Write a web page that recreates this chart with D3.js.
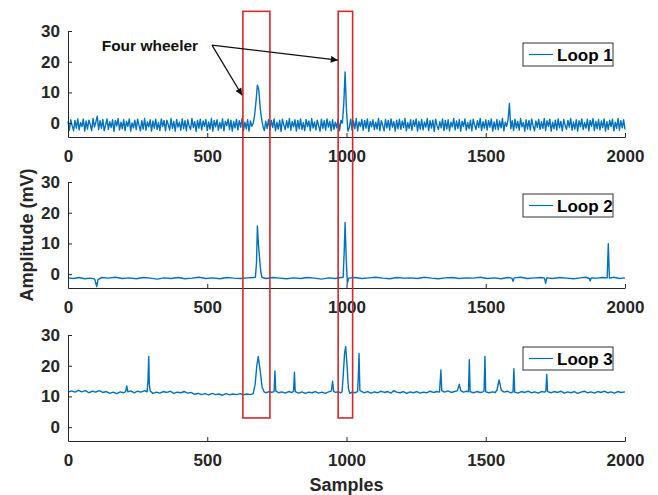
<!DOCTYPE html>
<html>
<head>
<meta charset="utf-8">
<script src="https://cdn.jsdelivr.net/npm/d3@7"></script>
<style>
  body { margin: 0; background: #fff; }
  text { font-family: "Liberation Sans", Arial, sans-serif; }
</style>
</head>
<body>
<div id="chart"></div>
<script>
// Loop 1: one value every 5 samples (0..2000), one row = 100 samples
const loop1Step = 5;
const loop1Values = [
  0.6,-2.3,1.1,-0.8,-2.5,0.9,-1.6,1.4,-2.2,0.2,-1.1,1.3,-2.6,0.7,-1.9,1.0,-0.4,-2.4,1.5,-1.3,
  0.4,2.3,-2.1,0.8,-1.7,1.2,-2.5,-0.6,1.4,-2.0,0.5,-1.4,1.1,-2.7,0.9,-0.9,1.5,-2.2,0.3,-1.8,
  1.2,-2.4,0.6,-1.0,1.4,-2.6,0.1,-1.5,1.0,-2.1,1.3,-0.7,-2.5,0.8,-1.9,1.5,-2.3,0.4,-1.2,1.1,
  -2.6,0.7,-1.6,1.3,-2.0,0.2,-2.4,1.4,-1.1,0.9,-2.5,1.0,-0.5,-2.2,1.5,-1.7,0.6,-2.6,1.2,-1.3,
  0.3,-2.3,1.4,-1.8,0.8,-2.5,1.1,-0.9,-2.1,1.5,-1.4,0.5,-2.7,1.0,-1.6,1.3,-2.2,0.7,-1.0,1.2,
  -2.4,0.4,-1.9,1.5,-2.6,0.9,-1.2,1.1,-2.3,0.2,-1.7,1.4,-2.5,0.6,-0.8,1.3,-2.1,1.0,-2.6,0.5,
  -1.5,1.2,-2.2,0.8,-1.3,1.5,-2.4,0.3,-1.8,1.1,-2.6,0.7,-1.0,0.0,2.5,7.0,12.4,11.0,5.0,1.5,
  -1.0,-2.4,0.6,-1.7,1.2,-2.2,0.9,-1.4,1.4,-2.5,0.3,-1.9,1.0,-2.7,1.3,-0.6,-2.1,0.8,-1.5,1.5,
  -2.3,0.5,-1.2,1.1,-2.6,0.9,-1.8,1.4,-2.0,0.2,-2.4,1.2,-1.1,0.7,-2.5,1.5,-1.6,0.4,-2.2,1.0,
  -0.9,-2.6,1.3,-1.7,0.8,-2.3,1.4,-1.3,0.6,-2.5,1.1,-2.0,0.3,-1.5,1.2,-2.4,0.9,0.0,6.0,16.7,
  4.0,-2.6,-1.4,1.3,-2.2,0.7,-1.8,1.5,-2.5,0.4,-1.1,1.2,-2.3,0.9,-1.6,1.4,-2.7,0.6,-1.2,1.1,
  -2.1,0.3,-1.9,1.5,-2.4,0.8,-0.7,-2.5,1.2,-1.5,0.9,-2.2,1.4,-1.3,0.5,-2.6,1.0,-1.8,1.3,-2.0,
  0.7,-1.4,1.5,-2.5,0.2,-1.7,1.1,-2.3,0.9,-1.0,1.4,-2.6,0.6,-1.9,1.2,-2.2,0.4,-1.3,1.5,-2.4,
  0.8,-1.6,1.0,-2.7,1.3,-0.8,-2.1,0.5,-1.5,1.4,-2.4,0.9,-1.9,1.1,-2.5,0.3,-1.2,1.5,-2.2,0.7,
  -1.7,1.2,-2.6,0.6,-1.1,1.4,-2.3,0.2,-1.8,1.0,-2.5,1.3,-0.6,-2.0,0.8,-1.4,1.5,-2.4,0.5,-1.6,
  1.1,-2.2,0.9,-1.3,1.4,-2.6,0.4,-1.9,1.2,-2.1,0.7,-1.5,1.5,-2.5,0.3,-1.0,1.0,6.4,-1.8,0.8,
  -2.4,1.3,-1.6,0.6,-2.3,1.5,-1.2,0.2,-2.6,1.1,-1.9,0.9,-2.2,1.4,-0.9,-2.5,0.7,-1.4,1.2,-2.0,
  0.5,-1.7,1.5,-2.4,0.8,-1.1,1.3,-2.6,0.3,-1.8,1.0,-2.2,1.4,-1.5,0.6,-2.5,1.2,-0.7,-2.0,0.9,
  -1.3,1.5,-2.3,0.4,-1.9,1.1,-2.6,0.8,-1.2,1.4,-2.1,0.2,-1.6,1.3,-2.5,0.9,-1.0,1.5,-2.4,0.6,
  -1.8,1.2,-2.2,0.7,-1.4,1.4,-2.6,0.5,-2.0,1.0,-1.1,1.3,-2.5,0.3,-1.7,1.5,-2.3,0.8,-1.5,1.1,
  -2.0
];

// Loop 2 and Loop 3: [sample, amplitude]
const loop2 = [
  [0,-1.2],[20,-1.4],[40,-1.1],[60,-1.5],[80,-1.3],[96,-1.6],[103,-4.0],[108,-1.8],[120,-1.1],
  [145,-1.3],[170,-1.0],[195,-1.4],[220,-1.2],[245,-1.5],[270,-1.1],[295,-1.3],[320,-1.6],
  [345,-1.2],[370,-1.4],[395,-1.1],[420,-1.5],[445,-1.3],[470,-1.0],[495,-1.4],[520,-1.2],
  [545,-1.5],[570,-1.1],[595,-1.3],[620,-1.4],[645,-1.2],[665,-1.1],[673,-1.0],[677,4.0],
  [680,15.7],[684,9.5],[688,5.0],[692,1.0],[696,-1.0],[710,-1.4],[735,-1.1],[760,-1.3],
  [785,-1.5],[810,-1.2],[835,-1.4],[860,-1.1],[885,-1.3],[910,-1.6],[935,-1.2],[960,-1.4],
  [980,-1.1],[988,-1.0],[992,8.0],[995,16.8],[999,5.0],[1003,-3.0],[1008,-1.3],[1030,-1.1],
  [1055,-1.4],[1080,-1.2],[1105,-1.0],[1130,-1.3],[1155,-1.5],[1180,-1.1],[1205,-1.3],
  [1230,-1.2],[1255,-1.4],[1280,-1.0],[1305,-1.3],[1330,-1.5],[1355,-1.2],[1380,-1.1],
  [1405,-1.4],[1430,-1.2],[1455,-1.3],[1480,-1.0],[1505,-1.4],[1530,-1.2],[1555,-1.5],
  [1580,-1.1],[1594,-1.3],[1598,-2.3],[1602,-1.2],[1625,-1.0],[1650,-1.4],[1675,-1.2],
  [1700,-1.1],[1711,-1.3],[1715,-3.0],[1719,-1.2],[1740,-1.4],[1765,-1.1],[1790,-1.3],
  [1815,-1.5],[1840,-1.2],[1860,-1.0],[1872,-1.4],[1875,-2.2],[1879,-1.2],[1900,-1.3],
  [1920,-1.1],[1936,-1.2],[1940,9.9],[1944,-1.3],[1960,-1.0],[1980,-1.4],[2000,-1.2]
];

const loop3 = [
  [0,11.3],[12,11.8],[25,11.4],[38,12.0],[50,11.5],[62,11.9],[75,11.2],[88,11.7],[100,11.4],
  [112,11.9],[125,11.3],[138,11.6],[150,11.0],[162,11.4],[175,10.9],[188,11.5],[200,11.2],
  [207,11.6],[211,13.4],[215,11.5],[225,11.8],[238,11.2],[250,11.7],[262,11.4],[275,11.9],
  [284,11.5],[287,15.0],[290,23.0],[292,14.0],[295,11.8],[305,11.0],[318,11.4],[330,11.1],
  [342,11.6],[355,11.3],[368,11.7],[380,11.0],[392,11.4],[405,11.2],[418,11.6],[430,11.1],
  [442,11.3],[455,10.7],[468,11.0],[480,10.6],[492,10.9],[505,10.5],[518,11.0],[530,10.6],
  [542,10.8],[555,10.4],[568,10.9],[580,10.5],[592,10.8],[605,10.6],[618,10.9],[630,10.5],
  [642,10.8],[655,10.6],[665,10.9],[672,14.0],[678,20.0],[683,23.0],[690,18.5],[697,13.0],
  [704,11.5],[712,11.2],[722,11.6],[732,11.3],[740,11.6],[743,18.3],[746,11.8],[756,11.2],
  [768,11.5],[780,11.1],[792,11.6],[804,11.3],[810,11.7],[813,17.9],[816,11.6],[828,11.1],
  [840,11.5],[852,11.0],[864,11.4],[876,11.2],[888,11.6],[900,11.1],[912,11.4],[924,11.0],
  [936,11.5],[946,11.8],[950,15.0],[954,11.6],[962,11.3],[970,11.6],[978,11.2],[984,11.5],
  [988,16.5],[993,24.0],[997,26.2],[1002,20.0],[1007,12.5],[1012,11.0],[1020,11.4],
  [1030,11.2],[1040,11.6],[1043,18.0],[1045,24.0],[1048,12.0],[1052,11.7],[1064,11.2],
  [1076,11.6],[1088,11.1],[1100,11.5],[1112,11.2],[1124,11.7],[1136,11.3],[1148,11.6],
  [1160,11.1],[1170,11.9],[1180,11.4],[1192,11.2],[1204,11.6],[1216,11.0],[1228,11.5],
  [1240,11.2],[1252,11.6],[1264,11.1],[1276,11.4],[1288,11.2],[1300,11.7],[1312,11.3],
  [1324,11.6],[1334,11.4],[1339,18.6],[1342,11.9],[1352,11.4],[1364,11.8],[1376,11.3],
  [1388,11.6],[1398,11.8],[1405,14.0],[1410,11.9],[1420,11.4],[1432,11.7],[1438,11.5],
  [1441,22.0],[1444,11.6],[1456,11.2],[1468,11.6],[1480,11.3],[1490,11.5],[1494,11.7],
  [1497,23.0],[1500,11.5],[1512,11.2],[1524,11.5],[1534,11.3],[1540,12.0],[1548,15.4],
  [1556,12.0],[1566,11.4],[1578,11.7],[1590,11.2],[1598,11.5],[1601,19.0],[1604,11.4],
  [1616,11.1],[1628,11.6],[1640,11.3],[1652,11.7],[1664,11.2],[1676,11.5],[1688,11.1],
  [1700,11.6],[1712,11.4],[1716,11.8],[1719,17.2],[1722,11.6],[1734,11.2],[1746,11.6],
  [1758,11.3],[1770,11.7],[1782,11.1],[1794,11.5],[1806,11.2],[1818,11.6],[1830,11.0],
  [1842,11.4],[1854,11.7],[1866,11.2],[1878,11.5],[1890,11.1],[1902,11.6],[1914,11.3],
  [1926,11.7],[1938,11.2],[1950,11.5],[1962,11.1],[1974,11.6],[1986,11.3],[2000,11.5]
];

const seriesNames = ["Loop 1", "Loop 2", "Loop 3"];
const xTicks = [0, 500, 1000, 1500, 2000];
const yTicks = [0, 10, 20, 30];
// sample windows of the two four-wheeler passes
const vehicleWindows = [[628, 725], [970, 1022]];

const width = 658;
const height = 495;
const plotLeft = 68;
const plotRight = 625;
const panelTops = [31, 182, 335];
const panelHeight = 106;
const axisColor = "#262626";
const lineColor = "#0072BD";

const svg = d3.select("#chart")
  .append("svg")
  .attr("width", width)
  .attr("height", height)
  .style("background", "#fff");

const x = d3.scaleLinear()
  .domain([0, 2000])
  .range([plotLeft, plotRight]);

const loop1 = loop1Values.map((v, i) => [i * loop1Step, v]);
const allSeries = [loop1, loop2, loop3];

const yScales = panelTops.map(top => d3.scaleLinear()
  .domain([-4.5, 30])
  .range([top + panelHeight, top]));

// Panels

allSeries.forEach((series, k) => {
  const y = yScales[k];
  const g = svg.append("g").attr("class", "panel");

  g.append("path")
    .datum(series)
    .attr("fill", "none")
    .attr("stroke", lineColor)
    .attr("stroke-width", k === 0 ? 1.4 : 1.4)
    .attr("stroke-linejoin", "round")
    .attr("d", d3.line().x(d => x(d[0])).y(d => y(d[1])));

  const xAxis = g.append("g")
    .attr("transform", `translate(0,${y.range()[0]})`)
    .call(d3.axisBottom(x).tickValues(xTicks).tickFormat(d3.format("d"))
      .tickSize(-4).tickSizeOuter(0).tickPadding(13));

  const yAxis = g.append("g")
    .attr("transform", `translate(${plotLeft},0)`)
    .call(d3.axisLeft(y).tickValues(yTicks).tickSize(-4).tickSizeOuter(0).tickPadding(8));

  [xAxis, yAxis].forEach(a => {
    a.select(".domain").attr("stroke", axisColor);
    a.selectAll(".tick line").attr("stroke", axisColor);
    a.selectAll(".tick text")
      .attr("fill", axisColor)
      .style("font-size", "17px")
      .style("font-weight", "bold")
      .style("font-family", "'Liberation Sans', Arial, sans-serif");
  });

  // Legend
  const lg = g.append("g")
    .attr("transform", `translate(523,${y.range()[1] + 12})`);
  lg.append("rect")
    .attr("width", 90)
    .attr("height", 23)
    .attr("fill", "#fff")
    .attr("stroke", "#333")
    .attr("stroke-width", 1);
  lg.append("line")
    .attr("x1", 6).attr("x2", 30)
    .attr("y1", 11.5).attr("y2", 11.5)
    .attr("stroke", lineColor)
    .attr("stroke-width", 1.2);
  lg.append("text")
    .attr("x", 34)
    .attr("y", 17.5)
    .attr("fill", "#000")
    .style("font-size", "17px")
    .style("font-weight", "bold")
    .text(seriesNames[k]);
});

// Axis titles

svg.append("text")
  .attr("transform", `translate(33,235) rotate(-90)`)
  .attr("text-anchor", "middle")
  .attr("fill", axisColor)
  .style("font-size", "18px")
  .style("font-weight", "bold")
  .text("Amplitude (mV)");

svg.append("text")
  .attr("x", x(1000))
  .attr("y", 491)
  .attr("text-anchor", "middle")
  .attr("fill", axisColor)
  .style("font-size", "18px")
  .style("font-weight", "bold")
  .text("Samples");

// Red boxes around the vehicle passes

const yTop = yScales[0];
const yBottom = yScales[2];
svg.append("g")
  .selectAll("rect")
  .data(vehicleWindows)
  .enter()
  .append("rect")
  .attr("x", d => x(d[0]))
  .attr("y", yTop(36.4))
  .attr("width", d => x(d[1]) - x(d[0]))
  .attr("height", yBottom(3) - yTop(36.4))
  .attr("fill", "none")
  .attr("stroke", "#d02a2f")
  .attr("stroke-width", 1.6);

// Annotation

svg.append("defs").append("marker")
  .attr("id", "arrow")
  .attr("viewBox", "0 0 10 10")
  .attr("refX", 10)
  .attr("refY", 5)
  .attr("markerWidth", 9)
  .attr("markerHeight", 7)
  .attr("markerUnits", "userSpaceOnUse")
  .attr("orient", "auto")
  .append("path")
  .attr("d", "M0,0L10,5L0,10z")
  .attr("fill", "#111");

const arrowStart = [517, 25.4];
const arrowTargets = [[625, 9.1], [969, 20.5]];

svg.append("g")
  .selectAll("line")
  .data(arrowTargets)
  .enter()
  .append("line")
  .attr("x1", x(arrowStart[0]))
  .attr("y1", yTop(arrowStart[1]))
  .attr("x2", d => x(d[0]))
  .attr("y2", d => yTop(d[1]))
  .attr("stroke", "#111")
  .attr("stroke-width", 1.3)
  .attr("marker-end", "url(#arrow)");

svg.append("text")
  .attr("x", x(121))
  .attr("y", yTop(23.5))
  .attr("fill", "#111")
  .style("font-size", "15.5px")
  .style("font-weight", "bold")
  .text("Four wheeler");
</script>
</body>
</html>
